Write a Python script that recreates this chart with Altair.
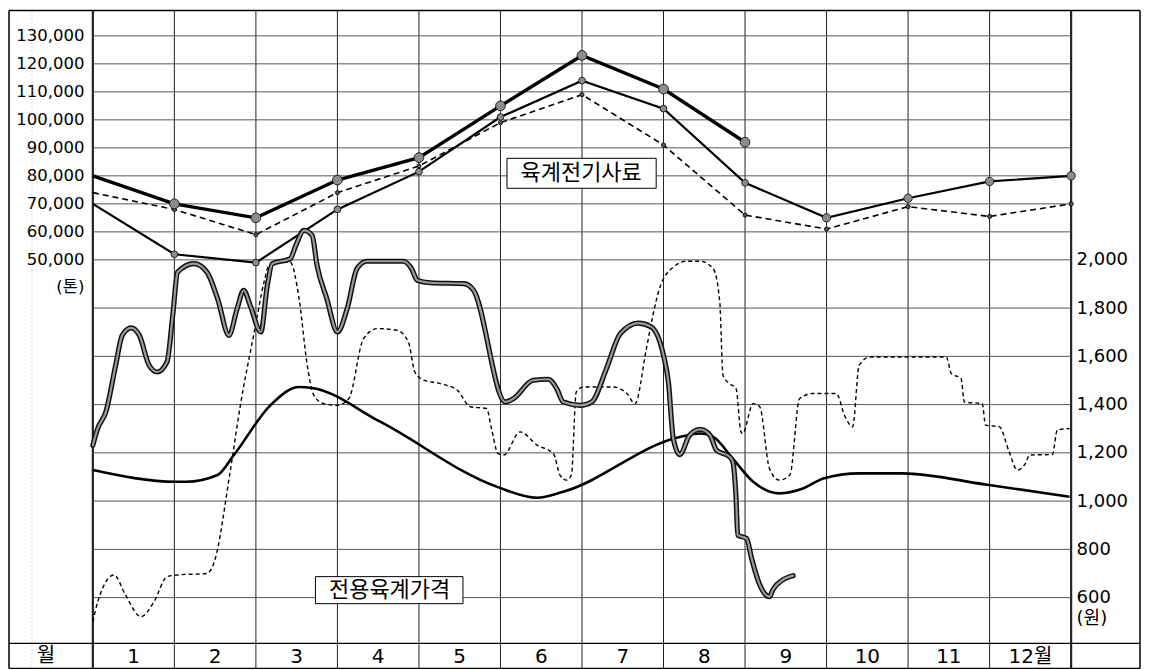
import altair as alt
import pandas as pd

# ---------------- data ----------------
# x axis: months, 0 = start of January ... 12 = end of December
month_bounds = list(range(13))
month_centers = [i + 0.5 for i in range(12)]
month_labels = ["1", "2", "3", "4", "5", "6", "7", "8", "9", "10", "11", "12월"]

# tonnage series (톤) at month boundaries
ton_a = [80000, 70000, 65000, 78500, 86500, 105000, 123000, 111000, 92000]
ton_b = [70000, 52000, 49000, 68000, 81500, 101000, 114000, 104000, 77500,
         65000, 72000, 78000, 80000]
ton_c = [74000, 68000, 59000, 74000, 83500, 99000, 109000, 91000, 66000,
         61000, 69000, 65500, 70000]

ton_ticks = [50000, 60000, 70000, 80000, 90000, 100000, 110000, 120000, 130000]
price_ticks = [600, 800, 1000, 1200, 1400, 1600, 1800, 2000]
price_grid = [600, 800, 1000, 1200, 1400, 1600, 1800]

# price series (원)
p1_m = [0.00, 0.06, 0.16, 0.28, 0.36, 0.47, 0.57, 0.69, 0.79, 0.91, 0.98, 1.04,
        1.24, 1.40, 1.53, 1.67, 1.77, 1.85, 1.93, 2.06, 2.14, 2.20, 2.42, 2.49,
        2.59, 2.69, 2.75, 2.87, 3.00, 3.12, 3.24, 3.36, 3.81, 3.91, 3.98, 4.14,
        4.55, 4.67, 5.06, 5.16, 5.40, 5.59, 5.69, 5.77, 5.98, 6.12, 6.30, 6.47,
        6.69, 6.85, 7.00, 7.06, 7.12, 7.20, 7.32, 7.45, 7.57, 7.65, 7.81, 7.85,
        7.89, 7.91, 8.02, 8.08, 8.18, 8.30, 8.34, 8.46, 8.59]
p1_v = [1232, 1301, 1370, 1563, 1687, 1718, 1687, 1563, 1535, 1577, 1770, 1949,
        1984, 1949, 1839, 1687, 1798, 1874, 1811, 1701, 1894, 1984, 2004, 2060,
        2122, 2101, 1977, 1839, 1701, 1798, 1963, 1994, 1994, 1963, 1915, 1905,
        1901, 1874, 1411, 1425, 1501, 1505, 1466, 1411, 1397, 1411, 1549, 1694,
        1738, 1722, 1604, 1494, 1259, 1193, 1273, 1297, 1273, 1211, 1184, 1163,
        1011, 859, 845, 763, 653, 604, 632, 673, 691]

p2_m = [0.00, 0.06, 0.26, 0.40, 0.59, 0.75, 0.91, 1.04, 1.40, 1.49, 1.69, 1.81,
        1.98, 2.10, 2.16, 2.26, 2.42, 2.53, 2.63, 2.71, 2.83, 3.00, 3.14, 3.32,
        3.49, 3.73, 3.87, 3.95, 4.06, 4.26, 4.47, 4.63, 4.83, 4.89, 4.97, 5.04,
        5.24, 5.45, 5.65, 5.73, 5.81, 5.87, 5.93, 6.02, 6.38, 6.55, 6.65, 6.79,
        6.87, 6.95, 7.12, 7.28, 7.45, 7.61, 7.69, 7.73, 7.81, 7.89, 7.95, 7.97,
        8.10, 8.18, 8.30, 8.42, 8.55, 8.67, 8.83, 9.12, 9.22, 9.32, 9.40, 9.53,
        10.47, 10.53, 10.65, 10.69, 10.91, 10.95, 11.12, 11.24, 11.34, 11.44,
        11.49, 11.77, 11.83, 11.98]
p2_v = [500, 583, 694, 611, 521, 583, 687, 694, 700, 749, 1135, 1398,
        1701, 1908, 1977, 1990, 1990, 1839, 1563, 1439, 1404, 1397, 1425, 1673,
        1715, 1708, 1660, 1535, 1501, 1487, 1460, 1391, 1384, 1300, 1197, 1191,
        1287, 1232, 1197, 1108, 1087, 1108, 1453, 1473, 1473, 1446, 1404, 1632,
        1770, 1880, 1970, 1994, 1994, 1963, 1825, 1522, 1487, 1466, 1287, 1280,
        1404, 1391, 1135, 1087, 1108, 1425, 1446, 1446, 1356, 1308, 1563, 1597,
        1597, 1529, 1508, 1411, 1404, 1315, 1308, 1204, 1129, 1156,
        1191, 1193, 1294, 1301]

p3_m = [0.00, 1.02, 1.14, 1.53, 1.73, 2.18, 2.53, 2.69, 3.53, 4.96, 5.45, 5.77,
        7.20, 7.45, 7.61, 7.85, 8.10, 8.42, 8.71, 8.96, 9.40, 9.93, 10.95, 11.98]
p3_v = [1129, 1080, 1080, 1108, 1191, 1398, 1473, 1469, 1328, 1059, 1014, 1039,
        1266, 1280, 1266, 1176, 1080, 1032, 1052, 1094, 1115, 1115, 1069, 1018]

# annotation boxes
ton_label = ["육계전기사료"]
ton_label_box = {"x0": [5.08], "x1": [6.91], "t0": [86260], "t1": [75560],
                 "tx": [5.99], "ty": [80900]}
price_label = ["전용육계가격"]
price_label_box = {"x0": [2.73], "x1": [4.54], "p0": [687], "p1": [575],
                   "tx": [3.64], "py": [631]}

# ---------------- chart ----------------
W, H = 980, 634
ROW = 25
FONT = "DejaVu Sans, Noto Sans CJK KR"
KFONT = "Noto Sans CJK KR"

xs = alt.Scale(domain=[0, 12], nice=False, zero=False)
ts = alt.Scale(domain=[-87000, 139020], nice=False, zero=False)
ps = alt.Scale(domain=[410, 3033], nice=False, zero=False)

ton_axis = alt.Axis(
    values=ton_ticks + [40500],
    labelExpr="datum.value == 40500 ? '(톤)' : format(datum.value, ',')",
    orient="left", grid=False, ticks=False, domain=False, labelPadding=9,
    labelFontSize=16.5, labelFont=FONT, labelColor="black",
    labelOverlap=False, labelFlush=False, title=None)
price_axis = alt.Axis(
    values=price_ticks + [514],
    labelExpr="datum.value == 514 ? '(원)' : format(datum.value, ',')",
    orient="right", grid=False, ticks=False, domain=False, labelPadding=5,
    labelFontSize=18, labelFont=FONT, labelColor="black", labelAlign="left",
    labelOverlap=False, labelFlush=False, title=None)


def X(f="m"):
    return alt.X(f"{f}:Q", scale=xs, axis=None)


def YT(f="ton"):
    return alt.Y(f"{f}:Q", scale=ts, axis=ton_axis)


def YP(f="price"):
    return alt.Y(f"{f}:Q", scale=ps, axis=price_axis)


one = pd.DataFrame({"t": ["월"]})

# frame pieces (decoration)
frame_top = alt.Chart(one).mark_rule(color="black", strokeWidth=1.5).encode(
    x=alt.value(-84), x2=alt.value(W + 69), y=alt.value(0))
frame_mid = alt.Chart(one).mark_rule(color="black", strokeWidth=1.2).encode(
    x=alt.value(-84), x2=alt.value(W + 69), y=alt.value(H))
frame_bot = alt.Chart(one).mark_rule(color="black", strokeWidth=1.2).encode(
    x=alt.value(-84), x2=alt.value(W + 69), y=alt.value(H + ROW))
frame_left = alt.Chart(one).mark_rule(color="black", strokeWidth=1.5).encode(
    x=alt.value(-84), y=alt.value(0), y2=alt.value(H + ROW))
frame_right = alt.Chart(one).mark_rule(color="black", strokeWidth=1.5).encode(
    x=alt.value(W + 69), y=alt.value(0), y2=alt.value(H + ROW))
frame_dot = alt.Chart(one).mark_rule(color="#b0b0b0", strokeWidth=1,
                                     strokeDash=[1, 3]).encode(
    x=alt.value(-61), y=alt.value(0), y2=alt.value(H + ROW))
wol = alt.Chart(one).mark_text(font=KFONT, fontSize=20, color="black").encode(
    x=alt.value(-47), y=alt.value(H + 13), text="t:N")

bounds_df = pd.DataFrame({"m": month_bounds,
                          "w": [2.2] + [1.0] * 11 + [2.2]})
vgrid = alt.Chart(bounds_df).mark_rule(color="#222").encode(
    x=X(), y=alt.value(0), y2=alt.value(H + ROW),
    strokeWidth=alt.StrokeWidth("w:Q", scale=None))

months_df = pd.DataFrame({"m": month_centers, "label": month_labels})
month_text = alt.Chart(months_df).mark_text(font=FONT, fontSize=20,
                                            color="black").encode(
    x=X(), y=alt.value(H + 14), text="label:N")

tgrid = alt.Chart(pd.DataFrame({"ton": ton_ticks})).mark_rule(
    color="#555", strokeWidth=1).encode(y=YT())

df_a = pd.DataFrame({"m": month_bounds[:len(ton_a)], "ton": ton_a})
df_b = pd.DataFrame({"m": month_bounds[:len(ton_b)], "ton": ton_b})
df_c = pd.DataFrame({"m": month_bounds[:len(ton_c)], "ton": ton_c})

line_c = alt.Chart(df_c).mark_line(color="black", strokeWidth=1.6,
                                   strokeDash=[6, 4]).encode(x=X(), y=YT())
line_b = alt.Chart(df_b).mark_line(color="black", strokeWidth=2.2).encode(
    x=X(), y=YT())
line_a = alt.Chart(df_a).mark_line(color="black", strokeWidth=3.4).encode(
    x=X(), y=YT())
pts_c = alt.Chart(df_c.iloc[1:]).mark_circle(
    size=18, color="#555", stroke="black", strokeWidth=0.8, opacity=1).encode(
    x=X(), y=YT())
pts_b1 = alt.Chart(df_b.iloc[1:9]).mark_circle(
    size=45, color="#8c8c8c", stroke="#222", strokeWidth=1, opacity=1).encode(
    x=X(), y=YT())
pts_b2 = alt.Chart(df_b.iloc[9:]).mark_circle(
    size=70, color="#8c8c8c", stroke="#222", strokeWidth=1, opacity=1).encode(
    x=X(), y=YT())
pts_a = alt.Chart(df_a.iloc[1:]).mark_circle(
    size=95, color="#8c8c8c", stroke="#222", strokeWidth=1, opacity=1).encode(
    x=X(), y=YT())

box1_df = pd.DataFrame(dict(ton_label_box, label=ton_label))
box1 = alt.Chart(box1_df).mark_rect(fill="white", stroke="black",
                                    strokeWidth=1).encode(
    x=X("x0"), x2="x1:Q", y=YT("t0"), y2="t1:Q")
box1_text = alt.Chart(box1_df).mark_text(font=KFONT, fontSize=22,
                                         color="black").encode(
    x=X("tx"), y=YT("ty"), text="label:N")

ton_group = alt.layer(frame_dot, vgrid, tgrid, frame_top, frame_mid, frame_bot,
                      frame_left, frame_right, wol, month_text,
                      line_c, line_b, line_a, pts_c, pts_b1, pts_b2, pts_a,
                      box1, box1_text)

pgrid = alt.Chart(pd.DataFrame({"price": price_grid})).mark_rule(
    color="#555", strokeWidth=1).encode(y=YP())
df_p1 = pd.DataFrame({"m": p1_m, "price": p1_v})
df_p2 = pd.DataFrame({"m": p2_m, "price": p2_v})
df_p3 = pd.DataFrame({"m": p3_m, "price": p3_v})

line_p3 = alt.Chart(df_p3).mark_line(color="black", strokeWidth=2.6,
                                     interpolate="monotone").encode(
    x=X(), y=YP())
line_p2 = alt.Chart(df_p2).mark_line(color="black", strokeWidth=1.4,
                                     strokeDash=[4, 3],
                                     interpolate="monotone").encode(
    x=X(), y=YP())
line_p1_out = alt.Chart(df_p1).mark_line(color="#111", strokeWidth=5.2,
                                         strokeCap="round",
                                         interpolate="monotone").encode(
    x=X(), y=YP())
line_p1_in = alt.Chart(df_p1).mark_line(color="#9a9a9a", strokeWidth=2.2,
                                        strokeCap="round",
                                        interpolate="monotone").encode(
    x=X(), y=YP())

box2_df = pd.DataFrame(dict(price_label_box, label=price_label))
box2 = alt.Chart(box2_df).mark_rect(fill="white", stroke="black",
                                    strokeWidth=1).encode(
    x=X("x0"), x2="x1:Q", y=YP("p0"), y2="p1:Q")
box2_text = alt.Chart(box2_df).mark_text(font=KFONT, fontSize=22,
                                         color="black").encode(
    x=X("tx"), y=YP("py"), text="label:N")

price_group = alt.layer(pgrid, line_p3, line_p2, line_p1_out, line_p1_in,
                        box2, box2_text)

chart = alt.layer(ton_group, price_group).resolve_scale(
    y="independent").properties(width=W, height=H, padding=0,
                                background="white").configure_view(stroke=None)

chart.save("out.html", embed_options={"renderer": "svg", "actions": False})
